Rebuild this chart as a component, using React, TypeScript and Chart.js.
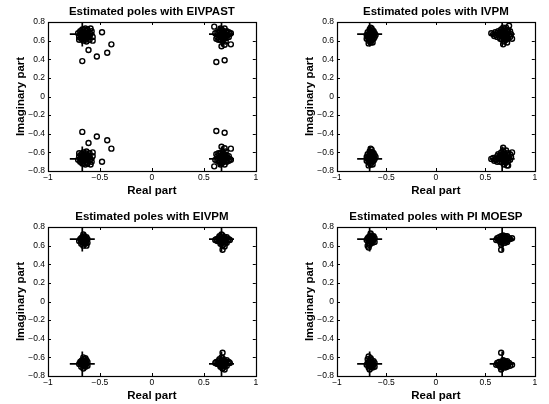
import React, { useEffect, useRef } from "react";
import { Chart, registerables } from "chart.js";

Chart.register(...registerables);

const FONT = "'Liberation Sans', Arial, Helvetica, sans-serif";

// Tick values / labels
const xTicks = [-1, -0.5, 0, 0.5, 1];
const yTicks = [-0.8, -0.6, -0.4, -0.2, 0, 0.2, 0.4, 0.6, 0.8];

// Plot titles
const titles = [
  "Estimated poles with EIVPAST",
  "Estimated poles with IVPM",
  "Estimated poles with EIVPM",
  "Estimated poles with PI MOESP",
];

// True poles (plus markers)
const trueRe = [-0.67, -0.67, 0.67, 0.67];
const trueIm = [0.67, -0.67, 0.67, -0.67];

// Estimated poles [real, imag]
const eivpastPoles: number[][] = [
  // upper left
  [-0.66, 0.66], [-0.64, 0.67], [-0.68, 0.65], [-0.65, 0.63], [-0.67, 0.69], [-0.63, 0.65], [-0.69, 0.67], [-0.62, 0.68],
  [-0.66, 0.71], [-0.64, 0.61], [-0.68, 0.62], [-0.61, 0.66], [-0.70, 0.64], [-0.63, 0.70], [-0.67, 0.72], [-0.65, 0.68],
  [-0.62, 0.63], [-0.60, 0.69], [-0.71, 0.68], [-0.69, 0.70], [-0.64, 0.73], [-0.66, 0.60], [-0.60, 0.64], [-0.63, 0.59],
  [-0.70, 0.61], [-0.59, 0.67], [-0.65, 0.65], [-0.62, 0.72], [-0.58, 0.70], [-0.57, 0.64], [-0.60, 0.61], [-0.59, 0.73],
  [-0.645, 0.675], [-0.665, 0.655], [-0.645, 0.645], [-0.665, 0.685], [-0.68, 0.67], [-0.63, 0.66], [-0.655, 0.625],
  [-0.675, 0.64], [-0.615, 0.65], [-0.635, 0.685],
  [-0.48, 0.69], [-0.39, 0.56], [-0.43, 0.47], [-0.53, 0.43], [-0.61, 0.50], [-0.67, 0.38], [-0.57, 0.60],
  // lower left
  [-0.66, -0.66], [-0.64, -0.67], [-0.68, -0.65], [-0.65, -0.63], [-0.67, -0.69], [-0.63, -0.65], [-0.69, -0.67], [-0.62, -0.68],
  [-0.66, -0.71], [-0.64, -0.61], [-0.68, -0.62], [-0.61, -0.66], [-0.70, -0.64], [-0.63, -0.70], [-0.67, -0.72], [-0.65, -0.68],
  [-0.62, -0.63], [-0.60, -0.69], [-0.71, -0.68], [-0.69, -0.70], [-0.64, -0.73], [-0.66, -0.60], [-0.60, -0.64], [-0.63, -0.59],
  [-0.70, -0.61], [-0.59, -0.67], [-0.65, -0.65], [-0.62, -0.72], [-0.58, -0.70], [-0.57, -0.64], [-0.60, -0.61], [-0.59, -0.73],
  [-0.645, -0.675], [-0.665, -0.655], [-0.645, -0.645], [-0.665, -0.685], [-0.68, -0.67], [-0.63, -0.66], [-0.655, -0.625],
  [-0.675, -0.64], [-0.615, -0.65], [-0.635, -0.685],
  [-0.48, -0.70], [-0.39, -0.56], [-0.43, -0.47], [-0.53, -0.43], [-0.61, -0.50], [-0.67, -0.38], [-0.57, -0.60],
  // upper right
  [0.68, 0.66], [0.66, 0.67], [0.70, 0.65], [0.67, 0.63], [0.69, 0.69], [0.65, 0.65], [0.71, 0.67], [0.64, 0.68],
  [0.68, 0.71], [0.66, 0.61], [0.70, 0.62], [0.73, 0.66], [0.63, 0.64], [0.72, 0.70], [0.67, 0.72], [0.69, 0.68],
  [0.72, 0.63], [0.74, 0.69], [0.63, 0.69], [0.65, 0.70], [0.70, 0.73], [0.68, 0.60], [0.74, 0.64], [0.71, 0.59],
  [0.64, 0.61], [0.75, 0.67], [0.67, 0.65], [0.66, 0.73], [0.76, 0.68],
  [0.67, 0.67], [0.69, 0.65], [0.67, 0.645], [0.69, 0.68], [0.705, 0.66], [0.655, 0.66], [0.68, 0.625], [0.71, 0.635],
  [0.715, 0.69], [0.655, 0.69],
  [0.60, 0.75], [0.76, 0.56], [0.70, 0.555], [0.67, 0.54], [0.62, 0.37], [0.70, 0.39], [0.62, 0.62], [0.61, 0.68],
  // lower right
  [0.68, -0.66], [0.66, -0.67], [0.70, -0.65], [0.67, -0.63], [0.69, -0.69], [0.65, -0.65], [0.71, -0.67], [0.64, -0.68],
  [0.68, -0.71], [0.66, -0.61], [0.70, -0.62], [0.73, -0.66], [0.63, -0.64], [0.72, -0.70], [0.67, -0.72], [0.69, -0.68],
  [0.72, -0.63], [0.74, -0.69], [0.63, -0.69], [0.65, -0.70], [0.70, -0.73], [0.68, -0.60], [0.74, -0.64], [0.71, -0.59],
  [0.64, -0.61], [0.75, -0.67], [0.67, -0.65], [0.66, -0.73], [0.76, -0.68],
  [0.67, -0.67], [0.69, -0.65], [0.67, -0.645], [0.69, -0.68], [0.705, -0.66], [0.655, -0.66], [0.68, -0.625], [0.71, -0.635],
  [0.715, -0.69], [0.655, -0.69],
  [0.60, -0.75], [0.76, -0.56], [0.70, -0.555], [0.67, -0.54], [0.62, -0.37], [0.70, -0.39], [0.62, -0.62], [0.61, -0.68],
];

const ivpmPoles: number[][] = [
  // upper left
  [-0.66, 0.65], [-0.65, 0.68], [-0.67, 0.62], [-0.64, 0.64], [-0.68, 0.67], [-0.66, 0.70], [-0.65, 0.60], [-0.63, 0.66],
  [-0.69, 0.64], [-0.67, 0.72], [-0.64, 0.71], [-0.68, 0.60], [-0.63, 0.62], [-0.70, 0.66], [-0.66, 0.58], [-0.62, 0.68],
  [-0.65, 0.73], [-0.69, 0.69], [-0.64, 0.58], [-0.67, 0.66], [-0.62, 0.64], [-0.70, 0.62], [-0.66, 0.74], [-0.63, 0.70],
  [-0.68, 0.57], [-0.65, 0.63], [-0.61, 0.66], [-0.67, 0.69],
  [-0.655, 0.66], [-0.665, 0.64], [-0.655, 0.62], [-0.665, 0.68], [-0.675, 0.655], [-0.645, 0.65], [-0.66, 0.605],
  [-0.66, 0.705], [-0.645, 0.69], [-0.675, 0.625],
  // lower left
  [-0.66, -0.66], [-0.65, -0.63], [-0.67, -0.69], [-0.64, -0.67], [-0.68, -0.64], [-0.66, -0.61], [-0.65, -0.71], [-0.63, -0.65],
  [-0.69, -0.67], [-0.67, -0.59], [-0.64, -0.60], [-0.68, -0.71], [-0.63, -0.69], [-0.70, -0.65], [-0.66, -0.73], [-0.62, -0.63],
  [-0.65, -0.57], [-0.69, -0.62], [-0.64, -0.73], [-0.67, -0.65], [-0.62, -0.67], [-0.70, -0.69], [-0.66, -0.56], [-0.63, -0.61],
  [-0.68, -0.74], [-0.65, -0.68], [-0.61, -0.65], [-0.67, -0.62],
  [-0.655, -0.64], [-0.665, -0.66], [-0.655, -0.68], [-0.665, -0.62], [-0.675, -0.645], [-0.645, -0.655], [-0.66, -0.695],
  [-0.66, -0.595], [-0.645, -0.61], [-0.675, -0.675],
  // upper right
  [0.69, 0.66], [0.67, 0.68], [0.71, 0.64], [0.68, 0.63], [0.70, 0.70], [0.66, 0.65], [0.72, 0.68], [0.65, 0.69],
  [0.69, 0.72], [0.67, 0.61], [0.71, 0.61], [0.74, 0.66], [0.64, 0.67], [0.73, 0.71], [0.68, 0.74], [0.70, 0.67],
  [0.73, 0.63], [0.75, 0.70], [0.62, 0.68], [0.63, 0.70], [0.71, 0.74], [0.69, 0.59], [0.75, 0.64], [0.72, 0.58],
  [0.65, 0.62], [0.76, 0.67], [0.60, 0.69], [0.58, 0.67], [0.56, 0.68], [0.59, 0.65], [0.61, 0.66], [0.74, 0.76],
  [0.77, 0.62], [0.68, 0.56], [0.66, 0.72], [0.62, 0.64],
  [0.68, 0.67], [0.70, 0.65], [0.68, 0.645], [0.70, 0.685], [0.715, 0.665], [0.665, 0.665], [0.69, 0.625], [0.72, 0.645],
  [0.725, 0.695], [0.66, 0.69], [0.69, 0.70], [0.705, 0.62],
  // lower right
  [0.69, -0.66], [0.67, -0.64], [0.71, -0.68], [0.68, -0.69], [0.70, -0.62], [0.66, -0.67], [0.72, -0.64], [0.65, -0.63],
  [0.69, -0.60], [0.67, -0.71], [0.71, -0.71], [0.74, -0.66], [0.64, -0.65], [0.73, -0.61], [0.68, -0.58], [0.70, -0.65],
  [0.73, -0.69], [0.75, -0.62], [0.62, -0.64], [0.63, -0.62], [0.71, -0.58], [0.69, -0.73], [0.75, -0.68], [0.72, -0.74],
  [0.65, -0.70], [0.76, -0.65], [0.60, -0.67], [0.58, -0.66], [0.56, -0.67], [0.59, -0.69], [0.61, -0.68], [0.68, -0.55],
  [0.77, -0.60], [0.73, -0.74], [0.66, -0.60], [0.62, -0.70],
  [0.68, -0.65], [0.70, -0.67], [0.68, -0.675], [0.70, -0.635], [0.715, -0.655], [0.665, -0.655], [0.69, -0.695], [0.72, -0.675],
  [0.725, -0.625], [0.66, -0.63], [0.69, -0.62], [0.705, -0.70],
];

const eivpmPoles: number[][] = [
  // upper left
  [-0.66, 0.66], [-0.64, 0.67], [-0.68, 0.65], [-0.65, 0.63], [-0.67, 0.69], [-0.63, 0.65], [-0.69, 0.67], [-0.65, 0.70],
  [-0.64, 0.62], [-0.68, 0.62], [-0.62, 0.67], [-0.70, 0.65], [-0.66, 0.72], [-0.63, 0.69], [-0.66, 0.60], [-0.64, 0.65],
  [-0.68, 0.68], [-0.62, 0.63], [-0.67, 0.64], [-0.65, 0.67], [-0.63, 0.60],
  [-0.655, 0.665], [-0.665, 0.655], [-0.65, 0.645], [-0.67, 0.675], [-0.68, 0.655], [-0.64, 0.665], [-0.66, 0.635],
  [-0.66, 0.69], [-0.645, 0.685], [-0.675, 0.64],
  // lower left
  [-0.66, -0.66], [-0.64, -0.65], [-0.68, -0.67], [-0.65, -0.69], [-0.67, -0.63], [-0.63, -0.67], [-0.69, -0.65], [-0.65, -0.62],
  [-0.64, -0.70], [-0.68, -0.70], [-0.62, -0.65], [-0.70, -0.67], [-0.66, -0.60], [-0.63, -0.63], [-0.66, -0.72], [-0.64, -0.67],
  [-0.68, -0.64], [-0.62, -0.69], [-0.67, -0.68], [-0.65, -0.65], [-0.64, -0.61],
  [-0.655, -0.665], [-0.665, -0.655], [-0.65, -0.645], [-0.67, -0.675], [-0.68, -0.655], [-0.64, -0.665], [-0.66, -0.635],
  [-0.66, -0.69], [-0.645, -0.685], [-0.675, -0.64],
  // upper right
  [0.68, 0.66], [0.66, 0.67], [0.70, 0.65], [0.67, 0.63], [0.69, 0.69], [0.65, 0.65], [0.71, 0.67], [0.64, 0.68],
  [0.68, 0.71], [0.66, 0.62], [0.70, 0.62], [0.73, 0.66], [0.63, 0.65], [0.72, 0.69], [0.67, 0.72], [0.69, 0.67],
  [0.72, 0.63], [0.74, 0.67], [0.62, 0.67], [0.65, 0.70], [0.68, 0.60], [0.75, 0.66], [0.61, 0.66], [0.70, 0.59],
  [0.67, 0.67], [0.69, 0.65], [0.67, 0.645], [0.69, 0.68], [0.705, 0.66], [0.655, 0.66], [0.68, 0.635], [0.71, 0.64],
  [0.70, 0.69], [0.66, 0.69],
  [0.68, 0.555],
  // lower right
  [0.68, -0.66], [0.66, -0.65], [0.70, -0.67], [0.67, -0.69], [0.69, -0.63], [0.65, -0.67], [0.71, -0.65], [0.64, -0.64],
  [0.68, -0.61], [0.66, -0.70], [0.70, -0.70], [0.73, -0.66], [0.63, -0.67], [0.72, -0.63], [0.67, -0.60], [0.69, -0.65],
  [0.72, -0.69], [0.74, -0.65], [0.62, -0.65], [0.65, -0.62], [0.68, -0.72], [0.75, -0.66], [0.61, -0.66], [0.70, -0.73],
  [0.67, -0.67], [0.69, -0.65], [0.67, -0.645], [0.69, -0.68], [0.705, -0.66], [0.655, -0.66], [0.68, -0.635], [0.71, -0.64],
  [0.70, -0.69], [0.66, -0.69],
  [0.68, -0.55],
];

const piMoespPoles: number[][] = [
  // upper left
  [-0.66, 0.67], [-0.64, 0.68], [-0.68, 0.66], [-0.65, 0.64], [-0.67, 0.70], [-0.63, 0.66], [-0.69, 0.68], [-0.65, 0.71],
  [-0.64, 0.63], [-0.68, 0.63], [-0.62, 0.68], [-0.70, 0.66], [-0.66, 0.73], [-0.63, 0.70], [-0.67, 0.61], [-0.64, 0.66],
  [-0.68, 0.69], [-0.62, 0.64], [-0.66, 0.65], [-0.69, 0.60], [-0.68, 0.58], [-0.65, 0.69],
  [-0.655, 0.675], [-0.665, 0.665], [-0.65, 0.655], [-0.67, 0.685], [-0.68, 0.665], [-0.64, 0.675], [-0.66, 0.645],
  [-0.66, 0.70], [-0.645, 0.695], [-0.675, 0.65],
  // lower left
  [-0.66, -0.67], [-0.64, -0.66], [-0.68, -0.68], [-0.65, -0.70], [-0.67, -0.64], [-0.63, -0.68], [-0.69, -0.66], [-0.65, -0.63],
  [-0.64, -0.71], [-0.68, -0.71], [-0.62, -0.66], [-0.70, -0.68], [-0.66, -0.61], [-0.63, -0.64], [-0.67, -0.73], [-0.64, -0.68],
  [-0.68, -0.65], [-0.62, -0.70], [-0.66, -0.69], [-0.69, -0.62], [-0.68, -0.59], [-0.65, -0.65],
  [-0.655, -0.675], [-0.665, -0.665], [-0.65, -0.655], [-0.67, -0.685], [-0.68, -0.665], [-0.64, -0.675], [-0.66, -0.645],
  [-0.66, -0.70], [-0.645, -0.695], [-0.675, -0.65],
  // upper right
  [0.68, 0.67], [0.66, 0.68], [0.70, 0.66], [0.67, 0.64], [0.69, 0.70], [0.65, 0.66], [0.71, 0.68], [0.64, 0.69],
  [0.68, 0.71], [0.66, 0.63], [0.70, 0.63], [0.73, 0.67], [0.63, 0.66], [0.72, 0.70], [0.69, 0.68], [0.72, 0.64],
  [0.74, 0.68], [0.62, 0.68], [0.61, 0.66], [0.75, 0.67], [0.77, 0.68], [0.66, 0.61], [0.66, 0.555], [0.65, 0.64],
  [0.67, 0.68], [0.69, 0.66], [0.67, 0.655], [0.69, 0.69], [0.705, 0.67], [0.655, 0.67], [0.68, 0.645], [0.71, 0.65],
  [0.70, 0.70], [0.66, 0.70],
  // lower right
  [0.68, -0.67], [0.66, -0.66], [0.70, -0.68], [0.67, -0.70], [0.69, -0.64], [0.65, -0.68], [0.71, -0.66], [0.64, -0.65],
  [0.68, -0.63], [0.66, -0.71], [0.70, -0.71], [0.73, -0.67], [0.63, -0.68], [0.72, -0.64], [0.69, -0.66], [0.72, -0.70],
  [0.74, -0.66], [0.62, -0.66], [0.61, -0.68], [0.75, -0.69], [0.77, -0.68], [0.66, -0.73], [0.66, -0.55], [0.65, -0.70],
  [0.67, -0.68], [0.69, -0.66], [0.67, -0.655], [0.69, -0.69], [0.705, -0.67], [0.655, -0.67], [0.68, -0.645], [0.71, -0.65],
  [0.70, -0.70], [0.66, -0.70],
];

const polesPerPlot = [eivpastPoles, ivpmPoles, eivpmPoles, piMoespPoles];

function fmt(v: number): string {
  const r = Math.round(v * 10) / 10;
  if (Math.abs(r) < 1e-9) return "0";
  const s = String(Math.abs(r));
  return r < 0 ? "\u2212" + s : s;
}

const framePlugin = {
  id: "matlabFrame",
  afterDraw(chart: any) {
    const { ctx, chartArea } = chart;
    const { left, right, top, bottom } = chartArea;
    const xs = chart.scales.x;
    const ys = chart.scales.y;
    const tl = 3;
    ctx.save();
    ctx.strokeStyle = "#000";
    ctx.lineWidth = 1;
    ctx.beginPath();
    xTicks.forEach((v) => {
      const px = Math.round(xs.getPixelForValue(v)) + 0.5;
      ctx.moveTo(px, bottom);
      ctx.lineTo(px, bottom - tl);
      ctx.moveTo(px, top);
      ctx.lineTo(px, top + tl);
    });
    yTicks.forEach((v) => {
      const py = Math.round(ys.getPixelForValue(v)) + 0.5;
      ctx.moveTo(left, py);
      ctx.lineTo(left + tl, py);
      ctx.moveTo(right, py);
      ctx.lineTo(right - tl, py);
    });
    ctx.stroke();
    ctx.lineWidth = 1.2;
    ctx.strokeRect(Math.round(left) + 0.5, Math.round(top) + 0.5, Math.round(right - left), Math.round(bottom - top));
    ctx.restore();
  },
};

function makeConfig(idx: number, padRight: number): any {
  const poles = polesPerPlot[idx];
  const tickFont = { family: FONT, size: 8.5 };
  const titleFont = { family: FONT, size: 11.5, weight: "bold" as const, lineHeight: 1.2 };
  return {
    type: "scatter",
    data: {
      datasets: [
        {
          data: poles.map(([x, y]) => ({ x, y })),
          pointStyle: "circle",
          pointRadius: 2.5,
          pointHoverRadius: 2.5,
          borderColor: "#000",
          backgroundColor: "rgba(0,0,0,0)",
          borderWidth: 1.4,
        },
        {
          data: trueRe.map((x, i) => ({ x, y: trueIm[i] })),
          pointStyle: "cross",
          pointRadius: 12.5,
          pointHoverRadius: 12.5,
          borderColor: "#000",
          borderWidth: 1.7,
        },
      ],
    },
    options: {
      animation: false,
      responsive: false,
      events: [],
      layout: { padding: { left: 0, right: padRight, top: 0, bottom: 0 } },
      plugins: {
        legend: { display: false },
        tooltip: { enabled: false },
        title: {
          display: true,
          text: titles[idx],
          fullSize: false,
          color: "#000",
          font: titleFont,
          padding: { top: 5, bottom: 3.2 },
        },
      },
      scales: {
        x: {
          type: "linear",
          min: -1,
          max: 1,
          afterBuildTicks: (s: any) => {
            s.ticks = xTicks.map((v) => ({ value: v }));
          },
          ticks: { color: "#000", font: tickFont, padding: 2, maxRotation: 0, callback: (v: any) => fmt(Number(v)) },
          grid: { display: false, drawTicks: false },
          border: { display: false },
          title: { display: true, text: "Real part", color: "#000", font: titleFont, padding: { top: 0, bottom: 1 } },
          afterFit: (s: any) => {
            s.height = 28;
            s.paddingLeft = 0;
            s.paddingRight = 0;
          },
        },
        y: {
          type: "linear",
          min: -0.8,
          max: 0.8,
          afterBuildTicks: (s: any) => {
            s.ticks = yTicks.map((v) => ({ value: v }));
          },
          ticks: { color: "#000", font: tickFont, padding: 3, callback: (v: any) => fmt(Number(v)) },
          grid: { display: false, drawTicks: false },
          border: { display: false },
          title: { display: true, text: "Imaginary part", color: "#000", font: titleFont, padding: { top: 14, bottom: 0 } },
          afterFit: (s: any) => {
            s.width = 48;
            s.paddingTop = 0;
            s.paddingBottom = 0;
          },
        },
      },
    },
    plugins: [framePlugin],
  };
}

const panels = [
  { left: 0, top: 0, width: 270, padRight: 12.5 },
  { left: 289, top: 0, width: 260, padRight: 4 },
  { left: 0, top: 205, width: 270, padRight: 12.5 },
  { left: 289, top: 205, width: 260, padRight: 4 },
];

function Panel({ idx }: { idx: number }) {
  const ref = useRef<HTMLCanvasElement | null>(null);
  const p = panels[idx];
  useEffect(() => {
    if (!ref.current) return;
    const chart = new Chart(ref.current, makeConfig(idx, p.padRight));
    return () => chart.destroy();
  }, [idx]);
  return (
    <canvas
      ref={ref}
      width={p.width}
      height={199}
      style={{ position: "absolute", left: p.left, top: p.top, width: p.width, height: 199 }}
    />
  );
}

export default function App() {
  return (
    <div
      style={{
        position: "fixed",
        left: 0,
        top: 0,
        width: 549,
        height: 404,
        background: "#fff",
        overflow: "hidden",
      }}
    >
      {panels.map((_, i) => (
        <Panel key={i} idx={i} />
      ))}
    </div>
  );
}
